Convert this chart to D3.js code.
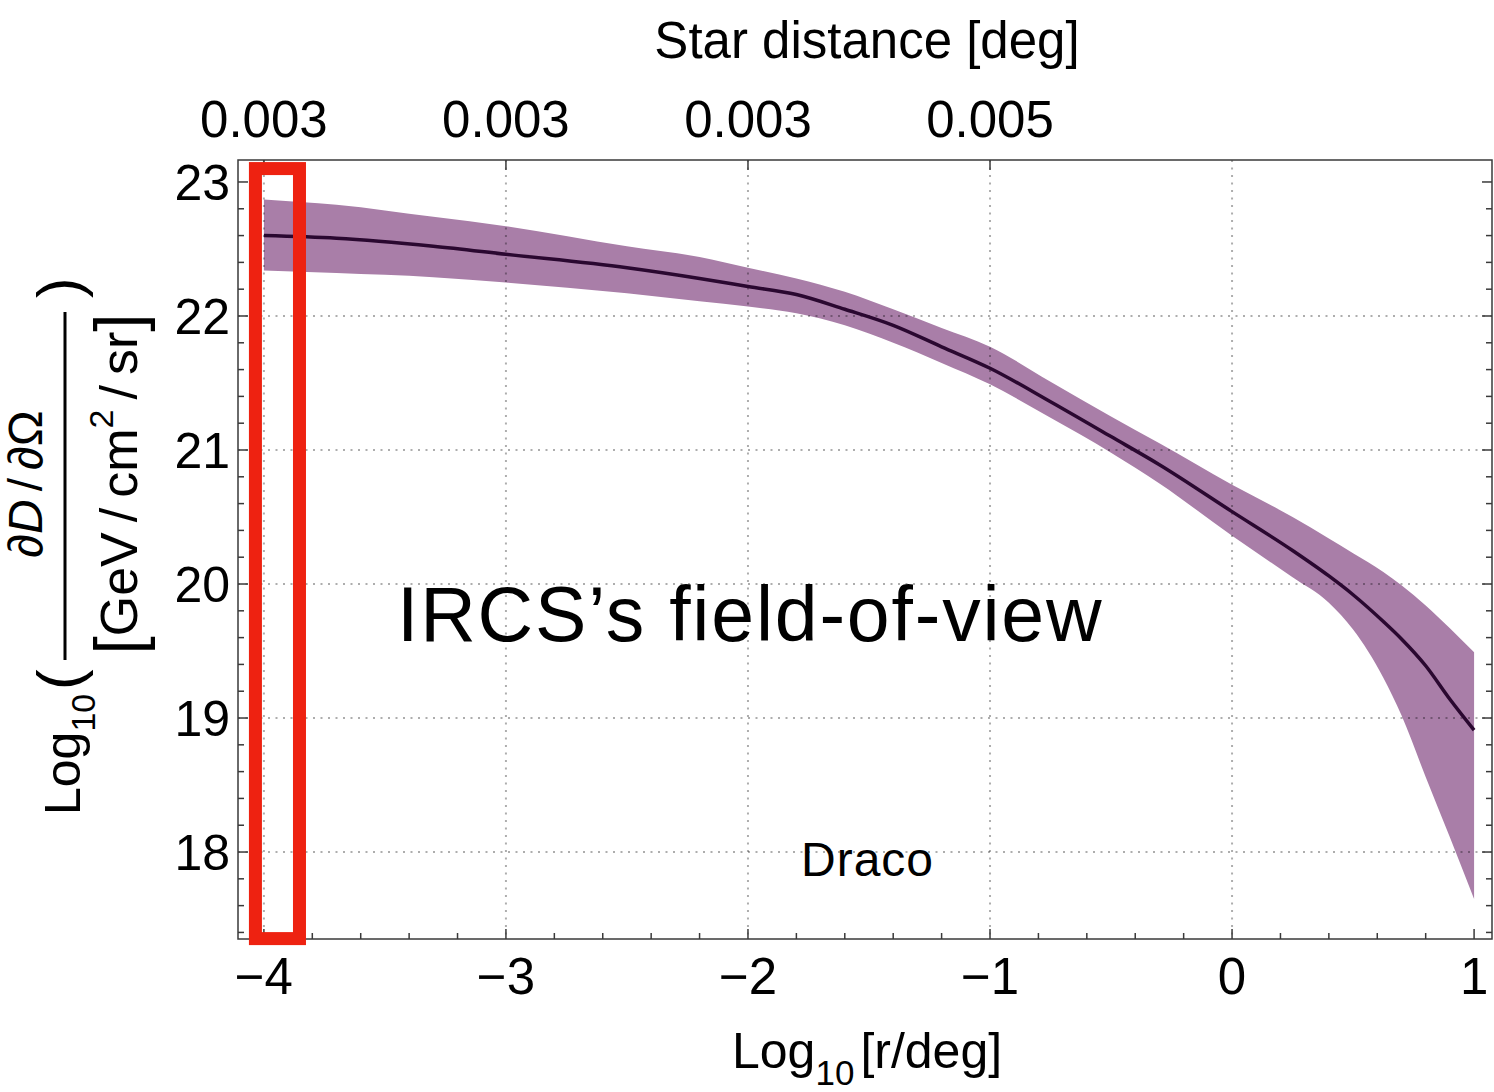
<!DOCTYPE html>
<html>
<head>
<meta charset="utf-8">
<script src="https://cdn.jsdelivr.net/npm/d3@7/dist/d3.min.js"></script>
<style>
  html, body { margin: 0; padding: 0; background: #fff; }
  svg { display: block; font-family: "Liberation Sans", Arial, sans-serif; }
</style>
</head>
<body>
<svg id="chart" width="1494" height="1092"></svg>
<script>
// Log10 of the differential D-factor profile for Draco vs. log10 angular radius
const logR = [-4, -3.7, -3.3, -3, -2.5, -2.2, -2, -1.8, -1.6, -1.4, -1.2, -1, -0.75, -0.5, -0.3, 0, 0.25, 0.4, 0.5, 0.625, 0.7, 0.8, 0.9, 1];
const dMedian = [22.60, 22.58, 22.52, 22.46, 22.36, 22.28, 22.22, 22.16, 22.05, 21.93, 21.77, 21.61, 21.36, 21.10, 20.89, 20.54, 20.25, 20.06, 19.92, 19.72, 19.59, 19.39, 19.14, 18.91];
const dUpper  = [22.87, 22.83, 22.74, 22.67, 22.52, 22.44, 22.36, 22.28, 22.18, 22.05, 21.91, 21.77, 21.51, 21.25, 21.05, 20.74, 20.50, 20.34, 20.23, 20.09, 19.99, 19.84, 19.67, 19.49];
const dLower  = [22.34, 22.32, 22.29, 22.25, 22.17, 22.11, 22.07, 22.02, 21.93, 21.80, 21.65, 21.49, 21.24, 20.98, 20.75, 20.36, 20.05, 19.86, 19.66, 19.30, 19.02, 18.56, 18.11, 17.65];

// Field-of-view window (log10 r range, log10 D range)
const fovX = [-4.035, -3.853];
const fovY = [17.354, 23.10];

// Axes
const xMajor = [-4, -3, -2, -1, 0, 1];
const xMajorLabels = ["\u22124", "\u22123", "\u22122", "\u22121", "0", "1"];
const yMajor = [18, 19, 20, 21, 22, 23];
const yMajorLabels = ["18", "19", "20", "21", "22", "23"];
const xGrid = [-4, -3, -2, -1, 0];
const yGrid = [18, 19, 20, 21, 22];
const topTicks = [-4, -3, -2, -1];
const topTickLabels = ["0.003", "0.003", "0.003", "0.005"];

const svg = d3.select("#chart");
const x = d3.scaleLinear().domain([-4.107, 1.074]).range([238, 1492]);
const y = d3.scaleLinear().domain([17.351, 23.164]).range([939, 160]);

const x0 = x.range()[0], x1 = x.range()[1];
const y0 = y.range()[1], y1 = y.range()[0];

// Uncertainty band
const pts = logR.map((r, i) => ({ r, m: dMedian[i], hi: dUpper[i], lo: dLower[i] }));
svg.append("path")
  .datum(pts)
  .attr("d", d3.area().curve(d3.curveMonotoneX)
    .x(d => x(d.r)).y0(d => y(d.lo)).y1(d => y(d.hi)))
  .attr("fill", "#a97ea8");

// Dotted grid lines
const grid = svg.append("g").attr("stroke", "rgba(0,0,0,0.32)").attr("stroke-width", 2)
  .attr("stroke-dasharray", "2,5.5");
grid.selectAll(".gx").data(xGrid).join("line")
  .attr("x1", d => x(d)).attr("x2", d => x(d)).attr("y1", y0).attr("y2", y1);
grid.selectAll(".gy").data(yGrid).join("line")
  .attr("y1", d => y(d)).attr("y2", d => y(d)).attr("x1", x0).attr("x2", x1);

// Median line
svg.append("path")
  .datum(pts)
  .attr("d", d3.line().curve(d3.curveMonotoneX).x(d => x(d.r)).y(d => y(d.m)))
  .attr("fill", "none")
  .attr("stroke", "#2a0830")
  .attr("stroke-width", 3.5)
  .attr("stroke-linejoin", "round");

// Frame
svg.append("rect")
  .attr("x", x0).attr("y", y0).attr("width", x1 - x0).attr("height", y1 - y0)
  .attr("fill", "none").attr("stroke", "#3a3a3a").attr("stroke-width", 1.5);

// Inward ticks
const tickG = svg.append("g").attr("stroke", "#3a3a3a").attr("stroke-width", 1.5);
const xMinor = d3.range(-4, 1.0001, 0.2).map(v => +v.toFixed(1));
const yMinor = d3.range(17.4, 23.0001, 0.2).map(v => +v.toFixed(1));
const isMajor = (v, arr) => arr.some(a => Math.abs(a - v) < 1e-6);

tickG.selectAll(".bt").data(xMinor).join("line")
  .attr("x1", d => x(d)).attr("x2", d => x(d))
  .attr("y1", y1).attr("y2", d => y1 - (isMajor(d, xMajor) ? 10 : 6));
tickG.selectAll(".tt").data(topTicks).join("line")
  .attr("x1", d => x(d)).attr("x2", d => x(d))
  .attr("y1", y0).attr("y2", y0 + 10);
tickG.selectAll(".lt").data(yMinor).join("line")
  .attr("y1", d => y(d)).attr("y2", d => y(d))
  .attr("x1", x0).attr("x2", d => x0 + (isMajor(d, yMajor) ? 10 : 6));
tickG.selectAll(".rt").data(yMinor).join("line")
  .attr("y1", d => y(d)).attr("y2", d => y(d))
  .attr("x1", x1).attr("x2", d => x1 - (isMajor(d, yMajor) ? 10 : 6));

// Tick labels
svg.append("g").selectAll("text").data(xMajor).join("text")
  .attr("x", d => x(d)).attr("y", 994)
  .attr("text-anchor", "middle").attr("font-size", 51)
  .text((d, i) => xMajorLabels[i]);
svg.append("g").selectAll("text").data(yMajor).join("text")
  .attr("x", 230).attr("y", d => y(d) + 18)
  .attr("text-anchor", "end").attr("font-size", 50)
  .text((d, i) => yMajorLabels[i]);
svg.append("g").selectAll("text").data(topTicks).join("text")
  .attr("x", d => x(d)).attr("y", 137)
  .attr("text-anchor", "middle").attr("font-size", 51)
  .text((d, i) => topTickLabels[i]);

// Axis titles
svg.append("text").attr("x", 867).attr("y", 58).attr("text-anchor", "middle")
  .attr("font-size", 51).text("Star distance [deg]");

const xt = svg.append("text").attr("x", 732).attr("y", 1068).attr("font-size", 50);
xt.append("tspan").text("Log");
xt.append("tspan").attr("font-size", 35).attr("dy", 17).text("10");
xt.append("tspan").attr("dy", -17).attr("dx", 6).text("[r/deg]");

// Rotated y-axis title: Log10( (∂D/∂Ω) / [GeV/cm²/sr] )
const yt = svg.append("g").attr("transform", "rotate(-90)");
const lg = yt.append("text").attr("x", -815).attr("y", 80).attr("font-size", 50);
lg.append("tspan").text("Log");
lg.append("tspan").attr("font-size", 34).attr("dy", 15).text("10");
yt.append("text").attr("x", -690).attr("y", 80).attr("font-size", 62).text("(");
yt.append("line").attr("x1", -660).attr("x2", -312).attr("y1", 65).attr("y2", 65)
  .attr("stroke", "#000").attr("stroke-width", 3);
const num = yt.append("text").attr("x", -484).attr("y", 42).attr("font-size", 48)
  .attr("text-anchor", "middle");
num.append("tspan").text("\u2202");
num.append("tspan").attr("font-style", "italic").text("D");
num.append("tspan").attr("dx", 8).text("/");
num.append("tspan").attr("dx", 8).text("\u2202");
num.append("tspan").text("\u03A9");
const den = yt.append("text").attr("x", -484).attr("y", 137).attr("font-size", 52)
  .attr("text-anchor", "middle");
den.append("tspan").attr("font-size", 66).attr("dy", 4).text("[");
den.append("tspan").attr("dy", -4).text("GeV");
den.append("tspan").attr("dx", 10).text("/");
den.append("tspan").attr("dx", 10).text("cm");
den.append("tspan").attr("font-size", 34).attr("dy", -24).text("2");
den.append("tspan").attr("dy", 24).attr("dx", 10).text("/");
den.append("tspan").attr("dx", 10).text("sr");
den.append("tspan").attr("font-size", 66).attr("dy", 4).text("]");
yt.append("text").attr("x", -298).attr("y", 80).attr("font-size", 62).text(")");

// Annotations
svg.append("text").attr("x", 397).attr("y", 641).attr("font-size", 77)
  .attr("letter-spacing", 1.8).text("IRCS\u2019s field-of-view");
svg.append("text").attr("x", 801).attr("y", 876).attr("font-size", 48)
  .attr("letter-spacing", 1).text("Draco");

// Field-of-view window
svg.append("rect")
  .attr("x", x(fovX[0])).attr("y", y(fovY[1]))
  .attr("width", x(fovX[1]) - x(fovX[0]))
  .attr("height", y(fovY[0]) - y(fovY[1]))
  .attr("fill", "none").attr("stroke", "#ee2211").attr("stroke-width", 13);
</script>
</body>
</html>
